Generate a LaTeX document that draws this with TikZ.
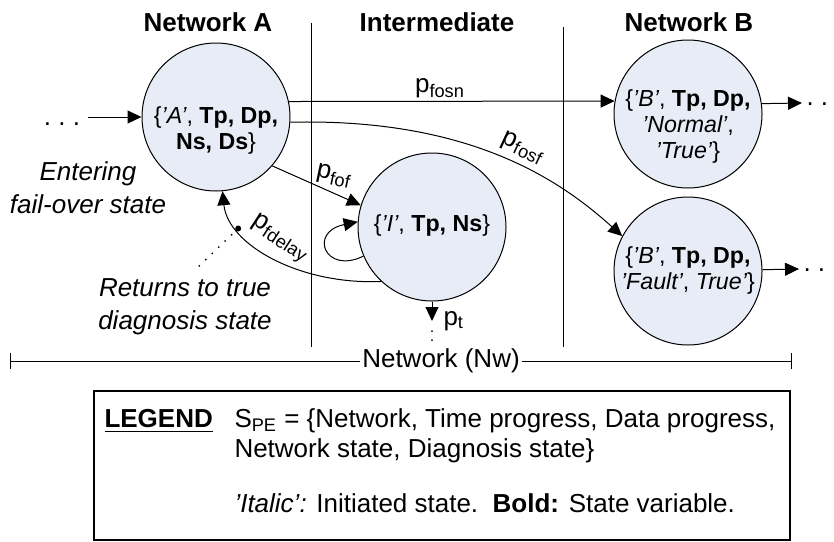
\documentclass[tikz,border=0pt]{standalone}
\usepackage{fontspec}
\setmainfont{Liberation Sans}
\usetikzlibrary{arrows.meta}
\definecolor{statefill}{RGB}{231,236,246}
% transition probabilities: upright p with a subscript
\newcommand{\pp}[1]{p\textsubscript{#1}}
% initiated (quoted, italic) state value
\newcommand{\iq}[1]{\textit{’#1’}}

\begin{document}
\begin{tikzpicture}[x=0.5pt,y=-0.5pt,line width=0.5pt,
  font=\fontsize{13}{13.5}\selectfont,
  >={Triangle[length=7pt,width=6.5pt]},
  state/.style={circle,draw,fill=statefill,minimum size=74pt,inner sep=0pt},
  txt/.style={align=center,inner sep=0pt,font=\fontsize{11.6}{13}\selectfont},
  head/.style={font=\fontsize{13}{13.5}\selectfont\bfseries,inner sep=0pt},
  lbl/.style={inner sep=0pt},
  note/.style={inner sep=0pt,align=center,font=\fontsize{13}{13.5}\selectfont\itshape},
  dotline/.style={line width=1pt,line cap=round,dash pattern=on 0pt off 4.5pt},
]
\useasboundingbox (0,0) rectangle (834,541);

% column headings and separators
\node[head] (hA) at (208,22) {Network A};
\node[head] (hI) at (437,22) {Intermediate};
\node[head] (hB) at (689,22) {Network B};
\coordinate (s1t) at (311,23); \coordinate (s1b) at (311,347);
\coordinate (s2t) at (563,27); \coordinate (s2b) at (563,347);
\draw (s1t) -- (s1b);
\draw (s2t) -- (s2b);

% states
\node[state] (A) at (216,117) {};
\node[txt] (At) at (216,130) {\{\iq{A}, \textbf{Tp, Dp,}\\\textbf{Ns, Ds}\}};
\node[state] (I) at (432,227) {};
\node[txt] (It) at (432,225) {\{\iq{I}, \textbf{Tp, Ns}\}};
\node[state] (Bn) at (688,114) {};
\node[txt] (Bnt) at (688,126) {\{\iq{B}, \textbf{Tp, Dp,}\\\iq{Normal},\\\iq{True}\}};
\node[state] (Bf) at (688,271) {};
\node[txt] (Bft) at (688,270) {\{\iq{B}, \textbf{Tp, Dp,}\\\iq{Fault}, \textit{True’}\}};

% entering network A
\coordinate (inL) at (88,117);
\node[lbl] (dotsL) at (62,124) {.\ .\ .};
\draw[->] (inL) -- (A.west);
\node[note] (enter) at (88,188) {Entering\\[3pt]fail-over state};

% fail-over to network B, normal
\draw[->] (A.12.5) -- (Bn.170);
\node[lbl] (lfosn) at (440,88) {\pp{fosn}};

% fail-over to network B, fault
\draw[->] (A.-4) .. controls (470,118) and (560,180) .. (Bf.152);
\node[lbl,rotate=-25] (lfosf) at (523,148) {\pp{fosf}};

% fail-over to intermediate
\draw[->] (A.-41) -- (I.163);
\node[lbl,rotate=-12] (lfof) at (334,176) {\pp{fof}};

% staying in intermediate
\draw[->] (I.203) .. controls (325,275) and (308,232) .. (I.176);

% back to network A after the diagnosis delay
\draw[->] (I.227) .. controls (300,285) and (228,245) .. coordinate[pos=0.75] (ret) (A.-85);
\fill (ret) circle (3);
\node[lbl,rotate=-33] (lfd) at (280,239) {\pp{fdelay}};
\coordinate (retEnd) at (193,272);
\draw[dotline] (ret) -- (retEnd);
\node[note] (retTxt) at (185,307) {Returns to true\\[3pt]diagnosis state};

% leaving the intermediate network
\coordinate (ptEnd) at (432,321);
\coordinate (ptDots) at (432,344);
\draw[->] (I.south) -- (ptEnd);
\draw[dotline] (432,331) -- (ptDots);
\node[lbl,anchor=west] (lpt) at (443,321) {\pp{t}};

% leaving network B
\coordinate (outN) at (802,103);
\coordinate (outF) at (799,269);
\draw[->] (Bn.8.5) -- (outN);
\draw[->] (Bf.1.5) -- (outF);
\node[lbl,anchor=west] (dotsN) at (806,104) {.\ .};
\node[lbl,anchor=west] (dotsF) at (803,270) {.\ .};

% network extent
\coordinate (nwL) at (10,361);
\coordinate (nwR) at (792,361);
\draw[{Bar[width=8pt]}-{Bar[width=8pt]}] (nwL) -- (nwR);
\node[fill=white,inner sep=1pt] (nw) at (441,361) {Network (Nw)};

% legend
\coordinate (lgNW) at (94,391);
\coordinate (lgSE) at (790,540);
\draw[line width=0.75pt] (lgNW) rectangle (lgSE);
\node[lbl,anchor=west] (lgHead) at (104,421) {\underline{\textbf{LEGEND}}};
\node[lbl,anchor=west] (lg1) at (234,421) {S\textsubscript{PE} = \{Network, Time progress, Data progress,};
\node[lbl,anchor=west] (lg2) at (234,451) {Network state, Diagnosis state\}};
\node[lbl,anchor=west] (lg3) at (234,503) {\textit{’Italic’:} Initiated state.\ \ \textbf{Bold:} State variable.};
\end{tikzpicture}
\end{document}
